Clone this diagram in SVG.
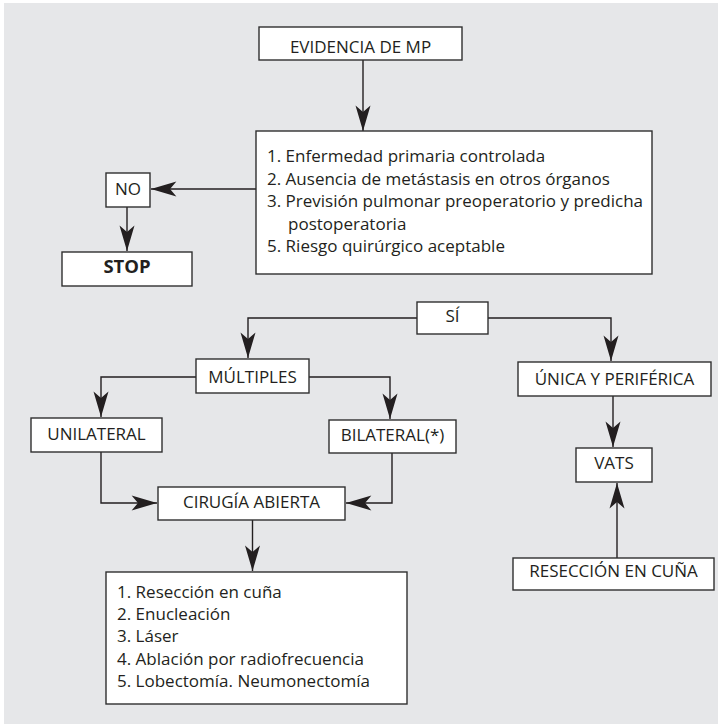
<svg xmlns="http://www.w3.org/2000/svg" width="720" height="724" viewBox="0 0 720 724">
  <style>
    .bg { fill: #e6e7e9; }
    .box { fill: #ffffff; stroke: #2f2f2f; stroke-width: 1.4; }
    .lbl { font-family: "Open Sans", "Noto Sans", "Liberation Sans", sans-serif; font-size: 17px; fill: #231f20; text-anchor: middle; }
    .list { font-family: "Open Sans", "Noto Sans", "Liberation Sans", sans-serif; font-size: 17px; fill: #231f20; }
    .bold { font-weight: bold; font-size: 18.5px; }
    .wire { fill: none; stroke: #231f20; stroke-width: 1.4; marker-end: url(#ah); }
  </style>
  <defs>
    <marker id="ah" markerUnits="userSpaceOnUse" orient="auto" refX="0" refY="0" markerWidth="30" markerHeight="30" viewBox="-24 -8 26 16" overflow="visible">
      <path d="M0,0 L-22,-6.5 L-16.5,0 L-22,6.5 Z" fill="#231f20"/>
    </marker>
  </defs>

  <rect class="bg" x="4" y="3" width="714" height="721"/>

  <!-- connectors -->
  <g id="connectors">
    <path class="wire" d="M363,60 V131"/>
    <path class="wire" d="M256,189 H151"/>
    <path class="wire" d="M127,207 V251"/>
    <path class="wire" d="M417,318 H248 V358"/>
    <path class="wire" d="M488,318 H611 V361"/>
    <path class="wire" d="M196,377 H101 V417"/>
    <path class="wire" d="M309,377 H390 V419"/>
    <path class="wire" d="M101,452 V503 H157"/>
    <path class="wire" d="M392,453 V503 H346"/>
    <path class="wire" d="M252.5,520 V571"/>
    <path class="wire" d="M613,396 V447"/>
    <path class="wire" d="M617,558 V483"/>
  </g>

  <g id="evidencia">
    <rect class="box" x="259" y="27" width="203" height="33"/>
    <text class="lbl" x="360.5" y="53">EVIDENCIA DE MP</text>
  </g>

  <g id="criterios">
    <rect class="box" x="256" y="131" width="396" height="143"/>
    <text class="list" x="267" y="162">1. Enfermedad primaria controlada</text>
    <text class="list" x="267" y="184.5">2. Ausencia de metástasis en otros órganos</text>
    <text class="list" x="267" y="207">3. Previsión pulmonar preoperatorio y predicha</text>
    <text class="list" x="288" y="229.5">postoperatoria</text>
    <text class="list" x="267" y="252">5. Riesgo quirúrgico aceptable</text>
  </g>

  <g id="no">
    <rect class="box" x="106" y="173" width="44" height="34"/>
    <text class="lbl" x="128" y="195">NO</text>
  </g>

  <g id="stop">
    <rect class="box" x="62" y="252" width="130" height="34"/>
    <text class="lbl bold" x="127" y="273">STOP</text>
  </g>

  <g id="si">
    <rect class="box" x="417" y="302" width="71" height="32"/>
    <text class="lbl" x="452.5" y="322">SÍ</text>
  </g>

  <g id="multiples">
    <rect class="box" x="196" y="359" width="113" height="34"/>
    <text class="lbl" x="252.5" y="383">MÚLTIPLES</text>
  </g>

  <g id="unica">
    <rect class="box" x="518" y="362" width="193" height="34"/>
    <text class="lbl" x="614.5" y="385">ÚNICA Y PERIFÉRICA</text>
  </g>

  <g id="unilateral">
    <rect class="box" x="31" y="418" width="131" height="34"/>
    <text class="lbl" x="96.5" y="440">UNILATERAL</text>
  </g>

  <g id="bilateral">
    <rect class="box" x="329" y="420" width="127" height="33"/>
    <text class="lbl" x="392.5" y="441">BILATERAL(*)</text>
  </g>

  <g id="vats">
    <rect class="box" x="576" y="448" width="76" height="34"/>
    <text class="lbl" x="614" y="469">VATS</text>
  </g>

  <g id="cirugia">
    <rect class="box" x="158" y="487" width="187" height="33"/>
    <text class="lbl" x="251.5" y="508">CIRUGÍA ABIERTA</text>
  </g>

  <g id="reseccion">
    <rect class="box" x="513" y="558" width="201" height="32"/>
    <text class="lbl" x="613.5" y="577">RESECCIÓN EN CUÑA</text>
  </g>

  <g id="tecnicas">
    <rect class="box" x="106" y="572" width="301" height="132"/>
    <text class="list" x="117" y="598">1. Resección en cuña</text>
    <text class="list" x="117" y="620">2. Enucleación</text>
    <text class="list" x="117" y="642">3. Láser</text>
    <text class="list" x="117" y="665">4. Ablación por radiofrecuencia</text>
    <text class="list" x="117" y="687">5. Lobectomía. Neumonectomía</text>
  </g>
</svg>
